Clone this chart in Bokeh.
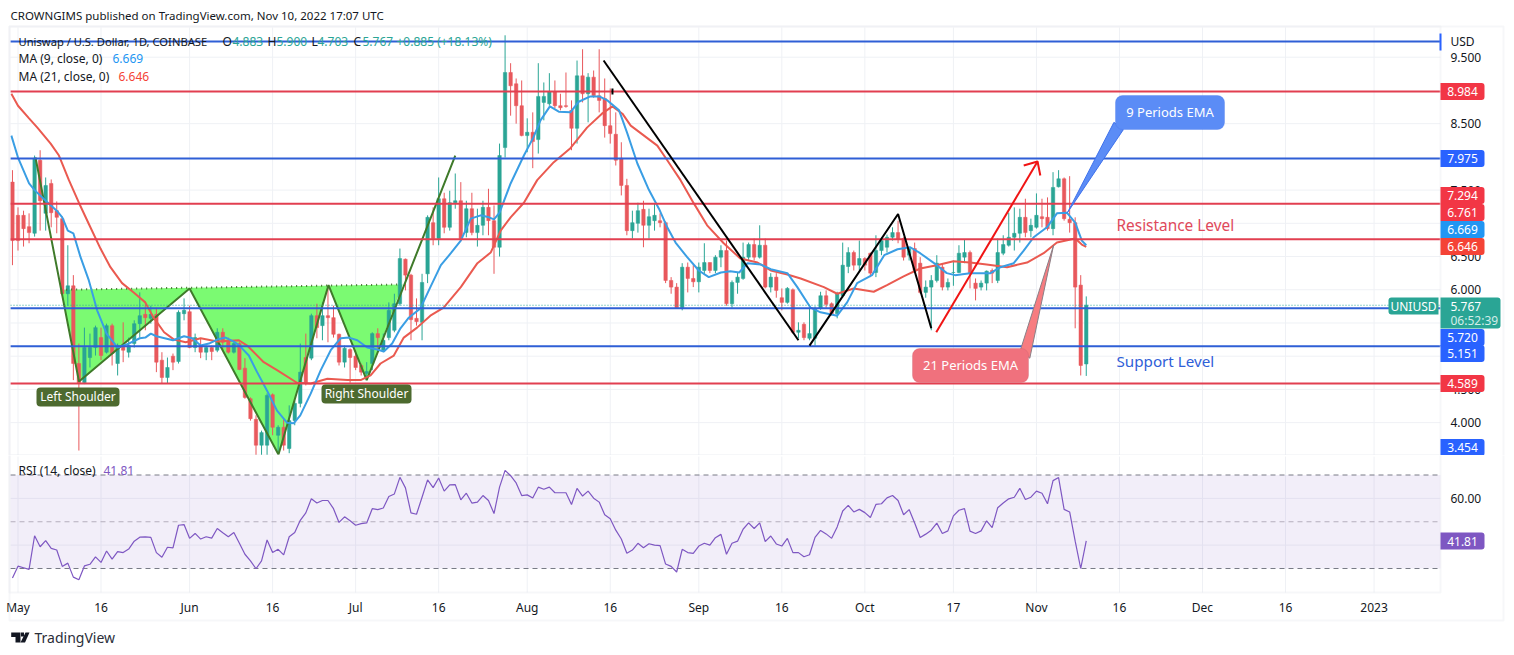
from bokeh.plotting import figure
from bokeh.layouts import column
from bokeh.models import (BoxAnnotation, ColumnDataSource, FixedTicker, Label, NumeralTickFormatter,
                          PolyAnnotation, Range1d)
from bokeh.embed import file_html
from bokeh.resources import INLINE

# ---------- data ----------
first_day = -1   # days since 1 May 2022
opens = [7.62,7.12,7.12,6.95,6.85,7.95,7.15,7.60,7.19,7.07,5.94,6.06,4.89,4.60,4.98,5.13,5.28,5.06,5.46,4.89,5.16,5.06,5.19,5.49,5.63,5.57,5.63,4.94,4.68,5.00,4.92,5.64,5.67,5.13,5.16,5.06,5.13,5.09,5.36,5.24,5.06,5.19,4.82,4.36,4.05,3.66,3.66,4.42,3.81,3.93,3.61,4.03,4.29,4.98,4.97,5.61,5.46,5.61,5.58,5.33,4.91,5.10,5.00,4.86,4.74,4.89,5.34,5.09,5.28,5.39,5.79,6.46,6.22,5.57,5.51,6.24,7.01,6.77,7.37,6.94,7.31,7.34,6.86,7.22,6.86,6.97,7.24,7.04,6.64,8.14,
9.27,9.10,8.77,8.32,8.37,8.26,8.82,8.80,8.98,8.77,8.77,8.70,8.43,9.22,8.95,9.20,8.92,8.88,8.47,8.34,7.98,7.57,6.89,7.00,7.21,6.97,7.04,7.04,7.01,6.14,6.04,5.73,6.34,6.17,6.12,6.29,6.41,6.29,6.49,6.59,5.79,6.11,6.17,6.49,6.68,6.49,6.67,6.04,6.19,5.88,5.81,6.00,5.36,5.48,5.27,5.27,5.72,5.91,5.79,5.64,5.91,6.35,6.56,6.37,6.47,6.55,6.26,6.59,6.64,6.79,6.86,6.77,6.52,6.62,6.40,5.96,6.04,6.14,6.34,6.04,6.26,6.26,6.49,6.56,6.10,6.04,6.10,6.29,6.14,6.55,6.67,6.79,6.85,7.09,6.89,6.94,7.10,7.09,6.92,7.55,7.67,7.06,7.01,6.07,4.883]
highs = [7.80,7.24,7.19,7.15,8.02,8.10,7.69,7.66,7.33,7.10,6.67,6.22,5.19,5.43,5.34,5.46,5.43,5.49,5.49,5.19,5.51,5.28,5.54,5.96,5.81,5.76,5.73,5.06,4.98,5.04,5.69,5.87,5.76,5.34,5.27,5.16,5.16,5.42,5.42,5.28,5.21,5.21,4.97,4.38,4.11,3.88,4.44,4.44,3.96,4.06,4.26,4.33,5.19,5.34,5.64,5.79,5.81,6.06,5.76,5.34,5.16,5.12,5.09,4.89,4.91,5.36,5.42,5.34,5.81,5.94,6.62,6.47,6.24,5.87,6.24,7.12,7.24,7.69,7.46,7.49,7.75,7.62,7.34,7.46,7.22,7.34,7.52,7.27,8.20,9.83,
9.41,9.18,9.15,8.58,8.67,9.41,9.12,9.26,9.15,8.95,9.27,8.85,9.45,9.62,9.26,9.30,9.62,9.18,9.03,8.67,8.22,7.67,7.19,7.31,7.34,7.22,7.30,7.15,7.03,6.19,6.10,6.40,6.41,6.37,6.41,6.70,6.41,6.52,6.67,6.74,6.14,6.26,6.71,6.71,6.77,6.97,6.77,6.25,6.25,6.02,6.04,6.02,5.51,5.51,5.72,5.75,5.97,5.99,5.81,5.97,6.71,6.64,6.59,6.74,6.49,6.56,6.82,6.79,6.83,6.94,7.04,6.79,6.64,6.71,6.49,6.14,6.22,6.52,6.40,6.17,6.44,6.67,6.76,6.59,6.17,6.14,6.29,6.32,6.77,6.82,7.16,7.24,7.22,7.37,7.07,7.45,7.37,7.39,7.77,7.80,7.69,7.71,7.09,6.22,5.900]
lows = [6.37,6.59,6.65,6.70,6.80,6.89,6.89,6.94,6.85,5.91,5.76,4.64,3.58,4.58,4.83,5.01,4.94,5.04,4.86,4.71,4.91,4.98,5.13,5.28,5.39,5.49,4.76,4.59,4.59,4.79,4.89,5.54,5.12,5.06,4.97,4.94,4.94,5.06,5.09,5.04,5.04,4.79,4.36,4.03,3.51,3.51,3.51,3.81,3.54,3.58,3.54,3.96,4.23,4.56,4.94,5.27,5.24,5.21,5.28,4.86,4.83,4.60,4.79,4.71,4.68,4.79,5.06,5.06,5.24,5.36,5.76,5.99,5.24,5.46,5.24,6.10,6.67,6.67,6.85,6.89,7.22,6.74,6.79,6.82,6.65,6.82,6.82,6.24,6.50,7.99,
8.62,8.50,8.31,8.07,7.83,8.05,8.55,8.77,8.73,8.70,8.74,8.10,8.20,8.82,8.52,8.89,8.67,8.29,8.20,7.87,7.42,6.82,6.77,6.86,6.64,6.77,6.89,6.94,6.10,5.94,5.72,5.69,5.96,6.04,5.96,6.22,6.25,6.25,6.34,5.76,5.73,5.94,6.15,6.44,6.44,6.47,6.02,5.96,5.88,5.69,5.79,5.34,5.27,5.24,5.24,5.16,5.70,5.73,5.61,5.57,5.88,6.25,6.29,6.29,6.29,6.19,6.19,6.52,6.56,6.74,6.70,6.44,6.44,6.25,5.94,5.88,5.39,6.11,5.99,5.99,6.06,6.25,6.40,6.02,5.84,5.99,5.99,6.10,6.10,6.52,6.65,6.59,6.71,6.79,6.79,6.92,6.94,6.89,6.82,7.54,7.04,6.86,5.42,4.71,4.703]
closes = [6.74,6.74,6.92,6.86,7.98,7.34,7.57,7.16,7.09,5.94,6.06,4.89,4.60,5.13,5.13,5.43,5.01,5.46,5.04,5.16,5.09,5.16,5.49,5.61,5.58,5.63,4.91,4.68,4.83,4.91,5.66,5.69,5.13,5.28,5.06,5.13,5.07,5.36,5.21,5.06,5.19,4.80,4.38,4.06,3.66,3.85,4.41,3.93,3.93,3.66,4.03,4.29,4.76,4.60,5.61,5.43,5.61,5.58,5.33,4.91,5.12,4.98,4.83,4.76,4.77,5.34,5.28,5.24,5.69,5.79,6.47,6.22,5.55,5.52,6.11,7.09,6.77,7.37,6.94,7.31,7.34,6.77,7.22,6.86,6.97,7.24,7.04,6.64,8.02,9.27,
9.07,8.77,8.32,8.37,8.23,8.91,8.91,8.98,8.77,8.74,8.76,8.43,9.22,8.95,9.20,8.92,8.85,8.47,8.35,7.95,7.57,6.89,7.01,7.19,6.97,7.10,7.12,7.01,6.14,6.04,5.73,6.34,6.17,6.12,6.34,6.41,6.29,6.49,6.59,5.79,6.11,6.19,6.49,6.68,6.49,6.67,6.04,6.19,5.99,5.81,6.02,5.36,5.39,5.28,5.34,5.72,5.91,5.78,5.64,5.94,6.37,6.56,6.37,6.47,6.37,6.25,6.59,6.74,6.79,6.86,6.76,6.49,6.62,6.29,5.96,6.04,6.14,6.40,6.04,6.11,6.26,6.55,6.56,6.25,6.02,6.10,6.28,6.25,6.56,6.68,6.79,6.85,7.09,6.86,6.97,7.12,7.07,6.92,7.54,7.67,7.07,7.01,6.04,4.86,5.767]

ma9_days = [-1.2,0,2,3,5,7,8,9,10,11.3,12.8,14.3,16,18,20,22,23,24,25,28,30,31.5,33,34.5,36,37.5,39,40,41.7,43.2,45,46.8,48.6,49.8,51,52.9,54.7,56.5,58.3,59.8,61.3,63.1,64.9,66.1,67.6,69.1,70.6,72.7,74.5,76.4,78.2,80,81.8,83.6,85.1,86,87,89,91.4,93.1,94.4,96.1,97.7,99.8,101.3,103.4,105,106.5,108.6,110.1,111.9,114,115.8,117.3,118.8,120.9,123,124.8,127,128.7,130.3,131.8,134.2,136,139,140.8,143.2,145,148,149.8,151.6,154.3,156.5,158.9,161.2,163,166,167.8,169.3,172,175.7,177.5,179.9,181.7,183.5,185.9,187.7,189.5,191,192.2,193]
ma9_vals = [8.32,7.99,7.60,7.50,7.34,7.19,7.09,6.89,6.85,6.49,6.14,5.69,5.34,5.13,5.19,5.27,5.28,5.34,5.30,5.24,5.30,5.27,5.16,5.19,5.25,5.28,5.22,5.16,5.01,4.76,4.48,4.18,4.00,3.99,4.11,4.44,4.79,5.09,5.27,5.28,5.24,5.13,5.10,5.07,5.19,5.42,5.58,5.72,6.04,6.37,6.55,6.74,7.07,7.12,7.09,7.06,7.16,7.60,8.02,8.29,8.55,8.76,8.68,8.67,8.83,8.91,8.91,8.85,8.70,8.35,7.90,7.50,7.22,6.94,6.71,6.49,6.29,6.19,6.26,6.28,6.26,6.40,6.38,6.31,6.25,6.04,5.73,5.66,5.61,5.81,6.10,6.22,6.52,6.61,6.64,6.55,6.37,6.25,6.22,6.25,6.25,6.34,6.40,6.59,6.79,6.94,7.15,7.16,7.01,6.74,6.669]
ma21_days = [-1.2,0,2,3.5,5.9,7.4,9.2,11,12.8,14.9,16.7,18.8,20.9,23,24.5,26.4,28.2,30.3,33,36,39.9,41.4,44.4,46.8,50.4,52.9,55.9,59.5,61.9,63.7,65.5,67.9,69.7,72.1,74.5,76.9,80,83,85.4,87.2,89,91.4,93.8,96.8,99.8,102.8,105.5,107.4,109.2,110.7,113.1,115.5,117.3,119.7,122.1,124.5,127.5,130.5,133.6,136,139,141.4,145.6,148,151,154.6,157,160,163,166,169,172,175,178.7,182.3,185.3,187.7,191,192.2,193]
ma21_vals = [8.95,8.77,8.58,8.44,8.20,8.02,7.65,7.31,6.99,6.62,6.34,6.10,5.96,5.81,5.58,5.36,5.25,5.21,5.27,5.22,5.24,5.16,4.91,4.79,4.60,4.59,4.66,4.64,4.64,4.71,4.89,5.01,5.28,5.43,5.61,5.73,6.04,6.40,6.56,6.89,7.09,7.31,7.65,7.92,8.13,8.44,8.65,8.76,8.65,8.47,8.32,8.17,7.95,7.65,7.30,6.97,6.70,6.47,6.41,6.29,6.23,6.17,6.04,5.94,6.02,5.97,6.07,6.20,6.32,6.37,6.43,6.41,6.38,6.34,6.41,6.55,6.71,6.77,6.68,6.646]

rsi = [25.9,31.0,30.3,29.6,44.0,39.3,41.9,38.6,37.9,30.9,32.3,26.3,25.2,31.1,31.8,35.0,32.6,37.5,34.0,37.2,36.8,38.3,41.7,43.4,43.5,43.3,36.8,34.8,39.1,38.8,48.5,48.8,42.9,45.0,42.6,43.6,43.0,47.1,45.3,43.6,45.4,40.8,36.1,33.3,29.9,33.3,42.2,36.8,38.2,35.8,43.6,45.4,50.6,53.8,59.8,58.0,59.1,59.1,55.6,49.7,52.1,50.4,48.5,49.2,49.5,55.6,55.2,55.9,60.8,61.9,69.0,64.5,53.8,53.2,60.5,67.9,64.6,68.7,63.1,65.8,65.9,59.4,62.2,58.0,58.4,61.2,59.1,53.5,64.8,72.0,69.7,66.6,61.2,61.5,60.2,64.8,63.9,64.8,62.4,62.4,
62.4,57.4,64.3,61.0,63.1,60.1,58.4,53.0,51.3,46.4,42.6,36.5,37.9,40.8,38.9,40.6,40.0,39.8,31.9,30.9,28.5,38.2,36.8,36.5,39.6,40.8,40.0,43.2,44.6,36.1,40.8,41.7,46.8,49.5,47.1,49.5,41.5,43.9,40.5,39.6,42.9,36.8,36.8,35.0,35.9,43.3,46.3,44.8,42.9,47.8,54.6,57.0,54.2,55.3,53.9,51.8,57.4,57.7,60.2,61.2,59.1,53.0,55.2,49.5,43.3,44.7,46.4,49.4,45.0,46.1,52.5,54.9,55.6,46.0,45.0,46.1,50.4,47.5,56.0,58.0,59.8,60.5,64.3,59.5,60.5,63.1,62.2,57.7,67.6,68.9,55.3,54.2,41.7,30.0,41.81]

level_blue = [9.737, 7.975, 5.720, 5.151]
level_red = [8.984, 7.294, 6.761, 4.589]
last_price = 5.767
price_ticks = [9.5, 8.5, 7.5, 7.0, 6.5, 6.0, 5.5, 5.0, 4.5, 4.0]
rsi_ticks = [60, 40]
time_ticks = [0, 15, 31, 46, 61, 76, 92, 107, 123, 138, 153, 169, 184, 199, 214, 229, 245]
time_labels = ["May", "16", "Jun", "16", "Jul", "16", "Aug", "16", "Sep", "16", "Oct", "17", "Nov", "16", "Dec", "16", "2023"]

pattern_x = [7.8, 11.02, 31.0, 47.06, 56.1, 63.0, 69.5]
pattern_y = [6.00, 4.62, 6.02, 3.52, 6.07, 4.64, 6.08]
neck_x = [7.8, 69.0]
neck_y = [6.00, 6.08]
black_x = [[105.8, 141.0], [143.0, 159.0, 165.0], [107.4, 107.4]]
black_y = [[9.45, 5.24], [5.16, 7.14, 5.42], [9.03, 8.94]]
arrow_x = [165.9, 184.2]
arrow_y = [5.36, 7.93]
head_x = [181.7, 184.2, 184.7]
head_y = [7.87, 7.93, 7.72]
green_line_x = [3.16, 11.02, 31.0, 47.06, 56.1, 63.0, 79.0]
green_line_y = [7.99, 4.62, 6.02, 3.52, 6.07, 4.64, 8.02]
callout_blue_x = [189.6, 198.0, 199.7]
callout_blue_y = [7.16, 8.52, 8.41]
callout_red_x = [187.1, 181.1, 182.8]
callout_red_y = [6.67, 5.09, 4.97]

FONT = "Noto Sans"
TEAL, RED = "#2aa595", "#e8585c"
BLUE_LINE, RED_LINE = "#2f5fd6", "#e23f50"
GRID, BORDER = "#eff1f5", "#e0e3eb"
TEXT = "#131722"
WIDTH = 1510

x_lo, x_hi = -17.5 / 5.535, (WIDTH - 17.5) / 5.535
x_start, x_end = -1.355, 257.0          # pane limits in days
price_lo, price_hi = 3.505, 9.947       # price pane limits
rsi_lo, rsi_hi = 19.7, 77.9             # rsi pane limits

days = list(range(first_day, first_day + len(closes)))
colors = [TEAL if c >= o else RED for o, c in zip(opens, closes)]
src = ColumnDataSource(dict(d=days, o=opens, h=highs, l=lows, c=closes, col=colors))


def make_fig(height, y0, y1):
    f = figure(width=WIDTH, height=height, x_range=Range1d(x_lo, x_hi), y_range=Range1d(y0, y1),
               y_axis_location="right", output_backend="svg", toolbar_location=None,
               min_border_left=0, min_border_right=0, min_border_top=0, min_border_bottom=0,
               outline_line_color=None, background_fill_color="white")
    f.grid.visible = False
    ax = f.yaxis[0]
    ax.fixed_location = x_end
    ax.axis_line_color = None
    ax.major_tick_line_color = None
    ax.minor_tick_line_color = None
    ax.major_tick_in = 0
    ax.major_tick_out = 0
    ax.major_label_text_font = FONT
    ax.major_label_text_font_size = "12px"
    ax.major_label_text_color = TEXT
    ax.major_label_standoff = 10
    return f


def grid(f, y_ticks, ylo, yhi):
    f.multi_line([[t, t] for t in time_ticks], [[ylo, yhi] for _ in time_ticks], line_color=GRID, line_width=1)
    f.multi_line([[x_start, x_end] for _ in y_ticks], [[t, t] for t in y_ticks], line_color=GRID, line_width=1)


def put(f, frame_bottom_px, text, x_px, y_px, color=TEXT, size="12px", anchor="center_left"):
    f.add_layout(Label(x=x_px, y=frame_bottom_px - y_px, x_units="screen", y_units="screen", text=text,
                       text_color=color, text_font=FONT, text_font_size=size, anchor=anchor))


def box(f, frame_bottom_px, left, right, top, bottom, width=2):
    f.add_layout(BoxAnnotation(left=left, right=right, top=frame_bottom_px - top, bottom=frame_bottom_px - bottom,
                               left_units="screen", right_units="screen", top_units="screen", bottom_units="screen",
                               fill_alpha=0, line_color=BORDER, line_width=width))


def pill(f, frame_bottom_px, left, right, top, bottom, color, border=None, radius=3):
    f.add_layout(BoxAnnotation(left=left, right=right, top=frame_bottom_px - top, bottom=frame_bottom_px - bottom,
                               left_units="screen", right_units="screen", top_units="screen", bottom_units="screen",
                               fill_color=color, fill_alpha=1, line_color=border, line_width=1 if border else 0,
                               border_radius=radius))


def tag(f, frame_bottom_px, text, y_px, color):
    pill(f, frame_bottom_px, 1440, 1484, y_px - 8.5, y_px + 8.5, color, radius=(0, 3, 3, 0))
    put(f, frame_bottom_px, text, 1462, y_px, color="white", anchor="center")


# ---------- price pane ----------
PB = 455
p = make_fig(PB, 8.984 - (PB - 91) / 66.44, 8.984 + 91 / 66.44)
p.xaxis.visible = False
p.yaxis[0].ticker = FixedTicker(ticks=price_ticks)
p.yaxis[0].formatter = NumeralTickFormatter(format="0.000")
p.yaxis[0].major_label_overrides = {7.0: "", 5.5: "", 5.0: ""}
grid(p, price_ticks, price_lo, price_hi)

p.patch(pattern_x, pattern_y, fill_color="#7bfa72", line_color=None)
p.segment("d", "l", "d", "h", source=src, line_color="col", line_width=1)
p.vbar(x="d", width=0.62, bottom="o", top="c", source=src, fill_color="col", line_color="col", line_width=0.5)
p.line(neck_x, neck_y, line_color="#3f6b2a", line_width=2, line_dash="1 4")
p.line(green_line_x, green_line_y, line_color="#3f7a2a", line_width=2)
p.line(ma21_days, ma21_vals, line_color="#ea5a50", line_width=2)
p.line(ma9_days, ma9_vals, line_color="#3a9ee4", line_width=2)
for lv in level_blue:
    p.line([x_start, x_end], [lv, lv], line_color=BLUE_LINE, line_width=2)
for lv in level_red:
    p.line([x_start, x_end], [lv, lv], line_color=RED_LINE, line_width=2)
p.line([x_start, x_end], [last_price, last_price], line_color=TEAL, line_width=1, line_dash="1 2")
p.multi_line(black_x, black_y, line_color="black", line_width=2)
p.line(arrow_x, arrow_y, line_color="#f01414", line_width=2)
p.line(head_x, head_y, line_color="#f01414", line_width=2)
p.patch(callout_blue_x, callout_blue_y, fill_color="#5b8cf6", line_color="#3f72ec", line_width=1)
p.patch(callout_red_x, callout_red_y, fill_color="#f77c80", line_color="#8a7f86", line_width=1)

box(p, PB, 9, 1503, 26, 500)       # outer frame (its lower edge lies off this canvas)
box(p, PB, 9, 1440, 26, PB - 0.5)  # pane edges

put(p, PB, "CROWNGIMS published on TradingView.com, Nov 10, 2022 17:07 UTC", 10, 15, size="11.5px")
put(p, PB, "Uniswap / U.S. Dollar, 1D, COINBASE", 18, 41, size="11.2px")
for s, xx in (("O", 222), ("H", 267), ("L", 311), ("C", 353)):
    put(p, PB, s, xx, 41)
for s, xx in (("4.883", 232), ("5.900", 276), ("4.703", 317), ("5.767", 362), ("+0.885 (+18.13%)", 396)):
    put(p, PB, s, xx, 41, color=TEAL)
put(p, PB, "MA (9, close, 0)", 18, 58)
put(p, PB, "6.669", 112, 58, color="#2196f3")
put(p, PB, "MA (21, close, 0)", 18, 76)
put(p, PB, "6.646", 118, 76, color="#f44336")

pill(p, PB, 36, 119, 387, 406, "#4d6a2f", radius=4)
put(p, PB, "Left Shoulder", 77.5, 396, color="white", anchor="center")
pill(p, PB, 321, 411, 384, 403, "#4d6a2f", radius=4)
put(p, PB, "Right Shoulder", 366, 393, color="white", anchor="center")
pill(p, PB, 1115, 1224, 95, 129, "#5b8cf6", border="#3f72ec", radius=7)
put(p, PB, "9 Periods EMA", 1169.5, 111.5, color="white", size="13px", anchor="center")
pill(p, PB, 912, 1028, 348, 382, "#f0717d", border="#c9616e", radius=7)
put(p, PB, "21 Periods EMA", 970, 364.5, color="white", size="13px", anchor="center")
put(p, PB, "Resistance Level", 1116, 224.5, color="#e0495b", size="15.4px")
put(p, PB, "Support Level", 1116, 360, color="#2f60d8", size="15.2px")

put(p, PB, "USD", 1450, 41)
pill(p, PB, 1439, 1441, 33, 50, "#2962ff", radius=0)
tags = [("8.984", 91, "#f23645"), ("7.975", 158, "#2962ff"), ("7.294", 195, "#f23645"), ("6.761", 212, "#f23645"),
        ("6.669", 229, "#2196f3"), ("6.646", 246, "#f44336"), ("5.720", 337, "#2962ff"), ("5.151", 353, "#2962ff"),
        ("4.589", 383, "#f23645"), ("3.454", 447, "#2962ff")]
for s, yy, col in tags:
    tag(p, PB, s, yy, col)
pill(p, PB, 1388, 1438, 297, 314, TEAL, radius=(3, 0, 0, 3))
put(p, PB, "UNIUSD", 1413, 305.5, color="white", anchor="center")
pill(p, PB, 1440, 1500, 297, 328, TEAL, radius=(0, 3, 3, 0))
put(p, PB, "5.767", 1450, 305.5, color="white")
put(p, PB, "06:52:39", 1450, 320, color="#d3ede9")

# ---------- RSI pane ----------
RB = 650 - PB
RSCALE = 93.5 / 40
r = make_fig(RB, 70 - (650 - 474.5) / RSCALE, 70 + (474.5 - PB) / RSCALE)
r.yaxis[0].ticker = FixedTicker(ticks=rsi_ticks)
r.yaxis[0].formatter = NumeralTickFormatter(format="0.00")
r.yaxis[0].major_label_overrides = {40: ""}
xa = r.xaxis[0]
xa.fixed_location = rsi_lo
xa.ticker = FixedTicker(ticks=time_ticks)
xa.major_label_overrides = dict(zip(time_ticks, time_labels))
xa.axis_line_color = None
xa.major_tick_line_color = None
xa.minor_tick_line_color = None
xa.major_tick_in = 0
xa.major_tick_out = 0
xa.major_label_text_font = FONT
xa.major_label_text_font_size = "12px"
xa.major_label_text_color = TEXT
xa.major_label_standoff = 6
grid(r, rsi_ticks, rsi_lo, rsi_hi)

r.quad(left=x_start, right=x_end, top=70, bottom=30, fill_color="#7e57c2", fill_alpha=0.1, line_color=None)
for lv, c in ((70, "#787b86"), (50, "#b5aebd"), (30, "#787b86")):
    r.line([x_start, x_end], [lv, lv], line_color=c, line_width=1, line_dash="5 4")
r.line(days, rsi, line_color="#7e57c2", line_width=1.2)

F = 650
box(r, F, 9, 1503, PB - 20, 620)
box(r, F, 9, 1440, PB - 20, 592)

put(r, F, "RSI (14, close)", 18, 470)
put(r, F, "41.81", 103, 470, color="#7e57c2")
tag(r, F, "41.81", 540.5, "#7e57c2")
put(r, F, "TradingView", 34, 637, size="14px", color="#2a2e39")

logo_t = ([10.7, 20, 20, 15, 15, 10.7], [632, 632, 642, 642, 636.5, 636.5])
logo_v = ([25, 29, 24.5, 20], [632, 632, 642, 642])
logo_dot = ([20.5, 23.5, 23.5, 20.5], [632, 632, 636, 636])
for xs, ys in (logo_t, logo_v, logo_dot):
    r.add_layout(PolyAnnotation(xs=xs, ys=[F - v for v in ys], xs_units="screen", ys_units="screen",
                                fill_color="#131722", fill_alpha=1, line_color=None))

page = column(p, r, spacing=0)
open("out.html", "w").write(file_html(page, INLINE))
